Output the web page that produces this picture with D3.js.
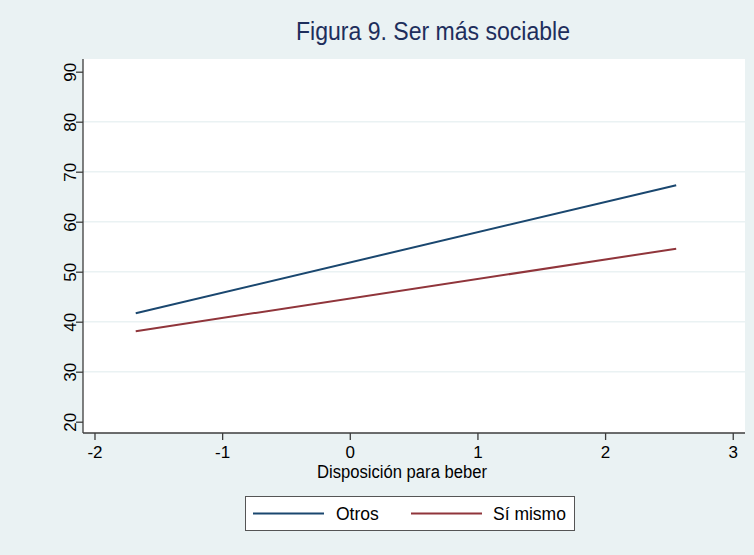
<!DOCTYPE html>
<html>
<head>
<meta charset="utf-8">
<script src="https://cdn.jsdelivr.net/npm/d3@7"></script>
<style>
  html, body { margin: 0; padding: 0; background: #eaf2f3; }
  svg { display: block; }
  text { font-family: "Liberation Sans", Arial, sans-serif; }
</style>
</head>
<body>
<script>
// Fitted lines of the outcome against drinking disposition
const seriesNames = ["Otros", "Sí mismo"];
const xValues = [-1.677, 2.557];
const otrosValues = [41.7, 67.3];
const siMismoValues = [38.1, 54.6];
const xTicks = [-2, -1, 0, 1, 2, 3];
const yTicks = [20, 30, 40, 50, 60, 70, 80, 90];
const yGrid = [30, 40, 50, 60, 70, 80];
const colors = ["#1a476f", "#90353b"];

const W = 754, H = 555;
const plot = { left: 83, right: 745, top: 59, bottom: 433 };

const svg = d3.select("body").append("svg")
  .attr("width", W).attr("height", H);

svg.append("rect").attr("width", W).attr("height", H).attr("fill", "#eaf2f3");

const x = d3.scaleLinear().domain([-2.09, 3.096]).range([plot.left, plot.right]);
const y = d3.scaleLinear().domain([17.74, 92.54]).range([plot.bottom, plot.top]);

// plot region
svg.append("rect")
  .attr("x", plot.left).attr("y", plot.top)
  .attr("width", plot.right - plot.left).attr("height", plot.bottom - plot.top)
  .attr("fill", "#ffffff");

// horizontal grid
svg.append("g").selectAll("line").data(yGrid).join("line")
  .attr("x1", plot.left).attr("x2", plot.right)
  .attr("y1", d => y(d)).attr("y2", d => y(d))
  .attr("stroke", "#eaf2f3").attr("stroke-width", 1.5);

// lines
const series = [otrosValues, siMismoValues];
const line = d3.line().x(d => x(d[0])).y(d => y(d[1]));
series.forEach((vals, i) => {
  svg.append("path")
    .datum(xValues.map((xv, j) => [xv, vals[j]]))
    .attr("d", line)
    .attr("fill", "none")
    .attr("stroke", colors[i])
    .attr("stroke-width", 2);
});

// axes (plain hyphen for negatives)
const fmt = d => String(d);
const xAxis = d3.axisBottom(x).tickValues(xTicks).tickSize(7).tickPadding(4).tickFormat(fmt);
const gx = svg.append("g").attr("transform", `translate(0,${plot.bottom})`).call(xAxis);
gx.select(".domain").attr("d", `M${plot.left},0H${plot.right}`);
gx.selectAll(".tick text").attr("y", 25).attr("dy", 0);

const yAxis = d3.axisLeft(y).tickValues(yTicks).tickSize(7).tickPadding(4).tickFormat(fmt);
const gy = svg.append("g").attr("transform", `translate(${plot.left},0)`).call(yAxis);
gy.select(".domain").attr("d", `M0,${plot.top}V${plot.bottom}`);
gy.selectAll(".tick text")
  .attr("transform", "rotate(-90)")
  .attr("x", 0).attr("y", -7)
  .attr("dy", 0)
  .attr("text-anchor", "middle");

[gx, gy].forEach(g => {
  g.selectAll(".domain, .tick line").attr("stroke", "#3c3c3c").attr("stroke-width", 1.3);
  g.selectAll(".tick text").attr("fill", "#000").attr("font-size", 17)
    .attr("font-family", "'Liberation Sans', Arial, sans-serif");
});

// title (slightly condensed face)
svg.append("text")
  .attr("x", 433).attr("y", 40)
  .attr("text-anchor", "middle")
  .attr("font-size", 25)
  .attr("textLength", 274)
  .attr("lengthAdjust", "spacingAndGlyphs")
  .attr("fill", "#1e2e5c")
  .text("Figura 9. Ser más sociable");

// x axis title
svg.append("text")
  .attr("x", 402).attr("y", 478)
  .attr("text-anchor", "middle")
  .attr("font-size", 18)
  .attr("textLength", 170)
  .attr("lengthAdjust", "spacingAndGlyphs")
  .attr("fill", "#000")
  .text("Disposición para beber");

// legend
const lg = svg.append("g");
lg.append("rect")
  .attr("x", 245.5).attr("y", 496.5).attr("width", 329).attr("height", 34)
  .attr("fill", "#fff").attr("stroke", "#555").attr("stroke-width", 1);
const legendItems = [
  { x0: 253, x1: 324, tx: 336 },
  { x0: 411, x1: 482, tx: 493 }
];
legendItems.forEach((it, i) => {
  lg.append("line").attr("x1", it.x0).attr("x2", it.x1)
    .attr("y1", 513.5).attr("y2", 513.5)
    .attr("stroke", colors[i]).attr("stroke-width", 2);
  lg.append("text").attr("x", it.tx).attr("y", 520)
    .attr("font-size", 17.5).attr("fill", "#000")
    .text(seriesNames[i]);
});
</script>
</body>
</html>
